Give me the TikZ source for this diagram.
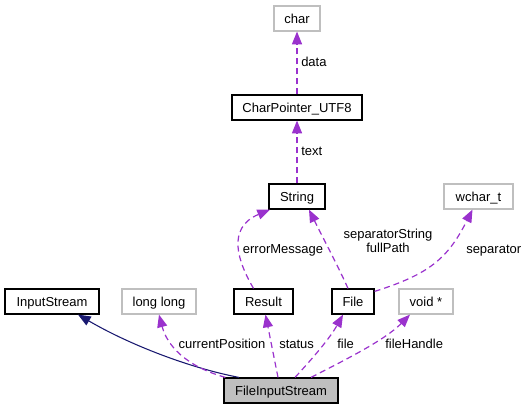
\documentclass[tikz,border=0pt]{standalone}
\usepackage{fontspec}
\setmainfont{Liberation Sans}
\usetikzlibrary{arrows.meta}
\usetikzlibrary{calc}
\definecolor{usecol}{HTML}{9A32CD}
\definecolor{inhcol}{HTML}{191970}
\definecolor{boxgray}{HTML}{BFBFBF}

\begin{document}
\begin{tikzpicture}[x=0.75pt, y=-0.75pt,
		font=\fontsize{9.75pt}{10.5pt}\selectfont,
		box/.style={draw, inner sep=0pt, minimum height=18.75pt, line width=0.9pt, text height=1.6ex, text depth=.3ex},
		classbox/.style={box, draw=black},
		extbox/.style={box, draw=boxgray},
		mainbox/.style={box, draw=black, fill=boxgray},
		uses/.style={draw=usecol, line width=0.9pt, dash pattern=on 4.5pt off 3pt,
			-{Triangle[length=9.5pt, width=7.5pt, fill=usecol]}},
		inherits/.style={draw=inhcol, line width=0.8pt,
			-{Triangle[length=9.5pt, width=7.5pt, fill=inhcol]}},
		lbl/.style={inner sep=0pt, text height=1.6ex, text depth=.3ex}
	]
	\useasboundingbox (0,0) rectangle (525,409);

	% classes
	\node[extbox, minimum width=34.5pt] (char) at (297,18.5) {char};
	\node[classbox, minimum width=97.5pt] (charptr) at (297,107.5) {CharPointer\_UTF8};
	\node[classbox, minimum width=42pt] (string) at (297,196.5) {String};
	\node[extbox, minimum width=51.75pt] (wchart) at (478.5,196.5) {wchar\_t};
	\node[classbox, minimum width=70.5pt] (instream) at (52,301.5) {InputStream};
	\node[extbox, minimum width=55.5pt] (longlong) at (159,301.5) {long long};
	\node[classbox, minimum width=44.25pt] (result) at (263.5,301.5) {Result};
	\node[classbox, minimum width=31.5pt] (file) at (353,301.5) {File};
	\node[extbox, minimum width=40.5pt] (voidptr) at (426,301.5) {void *};
	\node[mainbox, minimum width=85.5pt] (fis) at (281,390.5) {FileInputStream};

	% edges
	\draw[uses] (charptr) -- (char);
	\draw[uses] (string) -- (charptr);
	\draw[uses] ($(result.north)+(-10,0)$) .. controls (238,262) and (226,228) .. ($(string.south)+(-27,0)$);
	\draw[uses] ($(file.north)+(-5,0)$) .. controls (338,266) and (324,240) .. ($(string.south)+(12,0)$);
	\draw[uses] ($(file.north east)+(0,3)$) .. controls (430,274) and (448,258) .. ($(wchart.south)+(-6,0)$);
	\draw[inherits] ($(fis.north)+(-42,0)$) .. controls (190,368) and (130,345) .. ($(instream.south)+(26,0)$);
	\draw[uses] ($(fis.north west)+(2,0)$) .. controls (185,366) and (167,345) .. (longlong.south);
	\draw[uses] ($(fis.north)+(-3,0)$) -- ($(result.south)+(2,0)$);
	\draw[uses] ($(fis.north)+(14,0)$) .. controls (313,358) and (330,338) .. ($(file.south)+(-10,0)$);
	\draw[uses] ($(fis.north)+(30,0)$) .. controls (345,360) and (385,340) .. ($(voidptr.south)+(-16,0)$);

	% labels
	\node[lbl, anchor=west] (ldata) at (301,62) {data};
	\node[lbl, anchor=west] (ltext) at (301,151) {text};
	\node[lbl] (lerr) at (283,249) {errorMessage};
	\node[lbl, align=center] (lsep) at (388,248) {separatorString\\fullPath};
	\node[lbl, anchor=west] (lsepc) at (466,249) {separator};
	\node[lbl] (lpos) at (222,344) {currentPosition};
	\node[lbl, anchor=west] (lstat) at (279,344) {status};
	\node[lbl, anchor=west] (lfile) at (337,344) {file};
	\node[lbl, anchor=west] (lhandle) at (385,344) {fileHandle};
\end{tikzpicture}
\end{document}
